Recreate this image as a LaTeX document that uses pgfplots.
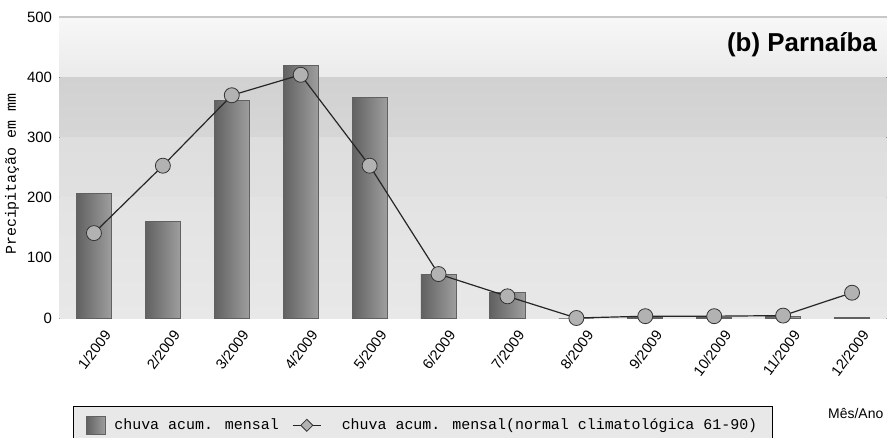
\documentclass[border=0pt]{standalone}
\usepackage{pgfplots}
\pgfplotsset{compat=1.18}
\usepackage{fontspec}
\setmainfont{Liberation Sans}
\newfontfamily\monofont{Liberation Mono}

% mes, chuva acumulada mensal, normal climatologica 61-90
\pgfplotstableread{
m chuva normal
0 207 141
1 161 253
2 361 370
3 420 404
4 366 253
5 73 73
6 42 36
7 0 0
8 0.5 3
9 0.5 3
10 2.5 4
11 0.5 42
}\dados

\pgfplotsset{barra/.style={ybar, bar width=0.51, bar shift=0, draw=black!62, line width=0.8bp,
  left color=black!62, right color=black!38}}

\begin{document}
\begin{tikzpicture}
\path[use as bounding box] (-59.5bp,-120bp) rectangle (832.5bp,318bp);
\begin{axis}[
  at={(0,0)}, anchor=south west,
  scale only axis, width=827bp, height=301bp,
  xmin=-0.5, xmax=11.5, ymin=0, ymax=500,
  axis x line*=bottom, axis y line*=left,
  axis line style={-, black!80, line width=1.3bp},
  tick align=inside,
  major tick length=7bp, minor tick length=4.5bp,
  tick style={black!80, line width=1bp},
  ytick={0,100,...,500}, minor ytick={50,150,...,450},
  xtick={0.5,1.5,...,11.5}, xticklabels={},
  extra x ticks={0,...,11},
  extra x tick labels={1/2009,2/2009,3/2009,4/2009,5/2009,6/2009,7/2009,8/2009,9/2009,10/2009,11/2009,12/2009},
  extra x tick style={major tick length=0pt,
    tick label style={rotate=53, anchor=north east, inner sep=1bp, yshift=-13bp, xshift=-2bp, font=\fontsize{14.5}{15}\selectfont}},
  yticklabel style={font=\fontsize{15}{15}\selectfont, xshift=-4bp},
  /pgf/number format/assume math mode=true,
  ylabel={Precipitação em mm},
  ylabel style={at={(axis description cs:-0.0574,0.478)}, anchor=center, font=\monofont\fontsize{15}{15}\selectfont},
  legend style={at={(axis description cs:0.0163,-0.292)}, anchor=north west,
    draw=black, fill=black!9, line width=0.8bp, inner xsep=13bp, inner ysep=10bp,
    font=\monofont\fontsize{15}{15}\selectfont},
  legend columns=2,
  legend cell align=left,
  /tikz/every odd column/.append style={column sep=7bp},
  /tikz/every even column/.append style={column sep=6bp},
  clip=false,
]
% faixas de fundo
\fill[top color=black!3, bottom color=black!8] (axis cs:-0.5,400) rectangle (axis cs:11.5,500);
\fill[top color=black!18, bottom color=black!16] (axis cs:-0.5,300) rectangle (axis cs:11.5,400);
\fill[top color=black!13, bottom color=black!12] (axis cs:-0.5,200) rectangle (axis cs:11.5,300);
\fill[top color=black!11, bottom color=black!9] (axis cs:-0.5,0) rectangle (axis cs:11.5,200);
\draw[black!22, line width=1.5bp] (axis cs:-0.5,500) -- (axis cs:11.5,500);

% uma barra por mes, para que cada uma tenha o seu degrade
\pgfplotsinvokeforeach{0,...,11}{
  \addplot[barra, forget plot, restrict expr to domain={\thisrow{m}}{#1:#1}]
    table[x=m, y=chuva]{\dados};
}
\addlegendimage{legend image code/.code={
    \begin{pgfinterruptboundingbox}
    \draw[draw=black!62, left color=black!62, right color=black!38] (0bp,-9bp) rectangle (19bp,9bp);
    \end{pgfinterruptboundingbox}
    \path[draw=none, fill=none] (0bp,-9bp) rectangle (19bp,9bp);}}
\addlegendentry{chuva acum. mensal}

\addplot[black!85, line width=1.2bp, mark=*, mark size=7.5bp,
  mark options={fill=black!30, draw=black!80, line width=0.8bp},
  legend image code/.code={\draw[black!85, line width=1.1bp] (6bp,0bp) -- (34bp,0bp);
    \draw[fill=black!30, draw=black!80, line width=0.8bp] (20bp,-6bp) -- (26bp,0bp) -- (20bp,6bp) -- (14bp,0bp) -- cycle;
    \path[draw=none, fill=none] (0bp,0bp) -- (46bp,0bp);}]
  table[x=m, y=normal]{\dados};
\addlegendentry{chuva acum. mensal(normal climatológica 61-90)}

\node[anchor=east, inner sep=0, font=\bfseries\fontsize{26}{26}\selectfont] at (axis description cs:0.9885,0.907) {(b) Parnaíba};
\node[anchor=west, inner sep=0, font=\fontsize{14}{14}\selectfont] at (axis description cs:0.9293,-0.3156) {Mês/Ano};
\end{axis}
\end{tikzpicture}
\end{document}
